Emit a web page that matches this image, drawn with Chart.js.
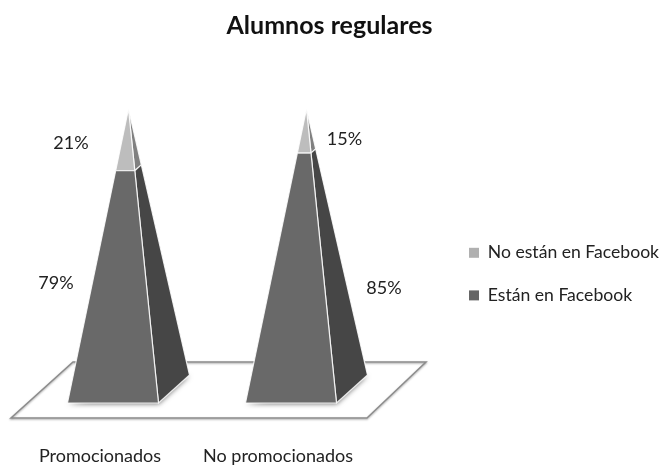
<!DOCTYPE html>
<html><head><meta charset="utf-8">
<style>html,body{margin:0;padding:0;background:#fff}#w{width:659px;height:467px}</style>
<script src="https://cdn.jsdelivr.net/npm/chart.js@4"></script></head>
<body><div id="w"><canvas id="c"></canvas></div>
<script>
const categories = ["Promocionados", "No promocionados"];
const estanValues = [79, 85];
const noEstanValues = [21, 15];
const seriesNames = ["Están en Facebook", "No están en Facebook"];
const legendColors = ["#666666", "#b0b0b0"];
const frontColors = ["#696969", "#bdbdbd"];
const sideColors = ["#464646", "#808080"];
const FONT = "Lato";
const HALF = 45.5, SHIFT = 13, APEX = 28.5, DEPTH_X = 31, DEPTH_Y = 28;

const pyramid = {
  id: "pyramid",
  afterLayout(chart) {
    chart.legend.left = 444; chart.legend.right = 900;
    chart.legend.top = 219; chart.legend.bottom = 467;
    chart.titleBlock.left = 0; chart.titleBlock.right = chart.width;
  },
  beforeDatasetsDraw(chart) {
    const { ctx, chartArea: a, scales: { y } } = chart;
    const b = y.getPixelForValue(0);
    ctx.save();
    ctx.beginPath();
    ctx.moveTo(a.left, b + 15);
    ctx.lineTo(a.right, b + 15);
    ctx.lineTo(a.right + 59, b - 41);
    ctx.lineTo(a.left + 62, b - 41);
    ctx.closePath();
    ctx.fillStyle = "#fff";
    ctx.fill();
    ctx.strokeStyle = "#8c8c8c";
    ctx.lineWidth = 1.5;
    ctx.shadowColor = "rgba(0,0,0,.35)";
    ctx.shadowBlur = 2;
    ctx.shadowOffsetY = 1;
    ctx.stroke();
    ctx.restore();
    // base shadows
    chart.getDatasetMeta(0).data.forEach(el => {
      const fc = el.x + SHIFT;
      ctx.save();
      ctx.shadowColor = "rgba(0,0,0,.55)";
      ctx.shadowBlur = 5;
      ctx.shadowOffsetY = 1;
      ctx.fillStyle = "#777";
      ctx.beginPath();
      ctx.moveTo(fc - HALF, b);
      ctx.lineTo(fc + HALF, b);
      ctx.lineTo(fc + HALF + DEPTH_X, b - DEPTH_Y);
      ctx.closePath();
      ctx.fill();
      ctx.restore();
    });
  },
  beforeDatasetDraw(chart, args) {
    const { ctx, scales: { y } } = chart;
    const i = args.index, y0 = y.getPixelForValue(0), yTop = y.getPixelForValue(100);
    const lerp = (p, q, t) => [p[0] + (q[0] - p[0]) * t, p[1] + (q[1] - p[1]) * t];
    args.meta.data.forEach(el => {
      const fc = el.x + SHIFT;
      const apex = [el.x + APEX, yTop];
      const FL = [fc - HALF, y0], FR = [fc + HALF, y0], BR = [fc + HALF + DEPTH_X, y0 - DEPTH_Y];
      const t0 = (y0 - el.base) / (y0 - yTop), t1 = (y0 - el.y) / (y0 - yTop);
      const poly = (pts, fill) => {
        ctx.beginPath();
        pts.forEach((p, k) => k ? ctx.lineTo(p[0], p[1]) : ctx.moveTo(p[0], p[1]));
        ctx.closePath();
        ctx.fillStyle = fill;
        ctx.fill();
        ctx.strokeStyle = "rgba(255,255,255,.85)";
        ctx.lineWidth = 1.2;
        ctx.lineJoin = "round";
        ctx.stroke();
      };
      poly([lerp(FR, apex, t0), lerp(BR, apex, t0), lerp(BR, apex, t1), lerp(FR, apex, t1)], sideColors[i]);
      poly([lerp(FL, apex, t0), lerp(FR, apex, t0), lerp(FR, apex, t1), lerp(FL, apex, t1)], frontColors[i]);
    });
    return false;
  },
  afterDatasetsDraw(chart) {
    const { ctx } = chart;
    // label centres relative to each bar segment's centre
    const off = [[[-44, -4], [106, 10]], [[-29, 3], [66.5, 8]]];
    ctx.save();
    ctx.font = "18px " + FONT;
    ctx.fillStyle = "#222";
    ctx.textAlign = "center";
    ctx.textBaseline = "middle";
    chart.data.datasets.forEach((ds, i) => {
      chart.getDatasetMeta(i).data.forEach((el, j) => {
        ctx.fillText(ds.data[j] + "%", el.x + off[i][j][0], (el.y + el.base) / 2 + off[i][j][1]);
      });
    });
    ctx.restore();
  }
};

new Chart(document.getElementById("c"), {
  type: "bar",
  plugins: [pyramid],
  data: {
    labels: categories,
    datasets: [
      { label: seriesNames[0], data: estanValues, backgroundColor: legendColors[0] },
      { label: seriesNames[1], data: noEstanValues, backgroundColor: legendColors[1] }
    ]
  },
  options: {
    responsive: true, maintainAspectRatio: false, animation: false,
    layout: { padding: { left: 11, right: 292, top: 0, bottom: 0 } },
    plugins: {
      tooltip: { enabled: false },
      title: {
        display: true, text: "Alumnos regulares", color: "#111",
        font: { family: FONT, size: 25, weight: "bold" },
        padding: { top: 11, bottom: 68 }
      },
      legend: {
        position: "chartArea", align: "start", reverse: true,
        labels: {
          boxWidth: 10, boxHeight: 10, padding: 25, color: "#222",
          font: { family: FONT, size: 17.6 }
        }
      }
    },
    scales: {
      x: {
        stacked: true,
        grid: { display: false }, border: { display: false },
        afterFit(s) { s.height = 64; s.paddingLeft = 0; s.paddingRight = 0; },
        ticks: { color: "#222", padding: 34, maxRotation: 0, autoSkip: false, font: { family: FONT, size: 18 } }
      },
      y: { stacked: true, display: false, min: 0, max: 100 }
    }
  }
});
</script></body></html>
